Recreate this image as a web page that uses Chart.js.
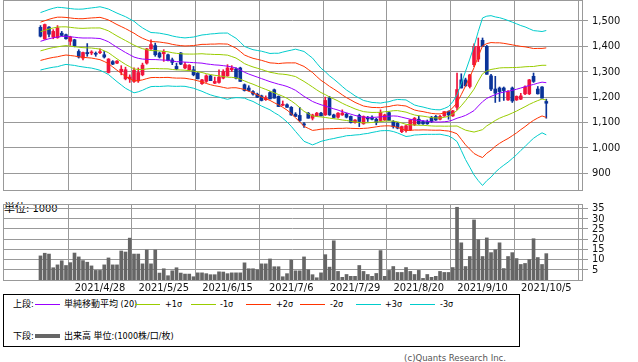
<!DOCTYPE html>
<html>
<head>
<meta charset="utf-8">
<script src="https://cdn.jsdelivr.net/npm/chart.js@4.4.0/dist/chart.umd.min.js"></script>
<style>
  body { margin: 0; background: #fff; width: 638px; height: 362px; position: relative; overflow: hidden;
         font-family: "DejaVu Sans Condensed", "Liberation Sans", "Noto Sans CJK JP", sans-serif; }
  canvas { position: absolute; left: 0; }
  #price { top: 0; }
  #vol { top: 195px; z-index: 2; }
  #unit { position: absolute; left: 4px; top: 202px; font-size: 11px; line-height: 13px; color: #000; z-index: 1; }
  #legend { position: absolute; left: 3px; top: 294px; width: 517px; height: 53px; box-sizing: border-box;
            border: 1px solid #000; font-size: 9px; color: #000; }
  #legend span { position: absolute; line-height: 11px; white-space: nowrap; }
  #legend i { position: absolute; width: 25px; height: 1px; }
  #copy { position: absolute; right: 132px; top: 352px; font-size: 9.5px; line-height: 12px; color: #555; }
</style>
</head>
<body>
<div id="unit">単位: 1000</div>
<canvas id="price" width="638" height="192"></canvas>
<canvas id="vol" width="638" height="105"></canvas>
<div id="legend">
  <span style="left:9px;top:4px">上段:</span>
  <i style="left:31px;top:9px;background:#9900ff"></i>
  <span style="left:60px;top:4px">単純移動平均 (20)</span>
  <i style="left:131px;top:9px;background:#99cc00"></i>
  <span style="left:161px;top:4px">+1σ</span>
  <i style="left:187px;top:9px;background:#99cc00"></i>
  <span style="left:216px;top:4px">-1σ</span>
  <i style="left:242px;top:9px;background:#ff3300"></i>
  <span style="left:272px;top:4px">+2σ</span>
  <i style="left:296px;top:9px;background:#ff3300"></i>
  <span style="left:326px;top:4px">-2σ</span>
  <i style="left:352px;top:9px;background:#00cccc"></i>
  <span style="left:381px;top:4px">+3σ</span>
  <i style="left:406px;top:9px;background:#00cccc"></i>
  <span style="left:436px;top:4px">-3σ</span>
  <span style="left:9px;top:36px">下段:</span>
  <i style="left:31px;top:39px;height:4px;background:#666"></i>
  <span style="left:60px;top:36px">出来高 単位:(1000株/口/枚)</span>
</div>
<div id="copy">(c)Quants Research Inc.</div>
<script>
// trading days shown on the chart
const dates = [
  "2021/4/8","2021/4/9","2021/4/12","2021/4/13","2021/4/14","2021/4/15","2021/4/16","2021/4/19","2021/4/20","2021/4/21",
  "2021/4/22","2021/4/23","2021/4/26","2021/4/27","2021/4/28","2021/4/30","2021/5/6","2021/5/7","2021/5/10","2021/5/11",
  "2021/5/12","2021/5/13","2021/5/14","2021/5/17","2021/5/18","2021/5/19","2021/5/20","2021/5/21","2021/5/24","2021/5/25",
  "2021/5/26","2021/5/27","2021/5/28","2021/5/31","2021/6/1","2021/6/2","2021/6/3","2021/6/4","2021/6/7","2021/6/8",
  "2021/6/9","2021/6/10","2021/6/11","2021/6/14","2021/6/15","2021/6/16","2021/6/17","2021/6/18","2021/6/21","2021/6/22",
  "2021/6/23","2021/6/24","2021/6/25","2021/6/28","2021/6/29","2021/6/30","2021/7/1","2021/7/2","2021/7/5","2021/7/6",
  "2021/7/7","2021/7/8","2021/7/9","2021/7/12","2021/7/13","2021/7/14","2021/7/15","2021/7/16","2021/7/19","2021/7/20",
  "2021/7/21","2021/7/26","2021/7/27","2021/7/28","2021/7/29","2021/7/30","2021/8/2","2021/8/3","2021/8/4","2021/8/5",
  "2021/8/6","2021/8/10","2021/8/11","2021/8/12","2021/8/13","2021/8/16","2021/8/17","2021/8/18","2021/8/19","2021/8/20",
  "2021/8/23","2021/8/24","2021/8/25","2021/8/26","2021/8/27","2021/8/30","2021/8/31","2021/9/1","2021/9/2","2021/9/3",
  "2021/9/6","2021/9/7","2021/9/8","2021/9/9","2021/9/10","2021/9/13","2021/9/14","2021/9/15","2021/9/16","2021/9/17",
  "2021/9/21","2021/9/22","2021/9/24","2021/9/27","2021/9/28","2021/9/29","2021/9/30","2021/10/1","2021/10/4","2021/10/5"
];

const open = [
  1475,1429,1476,1437,1434,1452,1446,1420,1426,1380, 1354,1376,1374,1373,1375,1367,1297,1340,1334,1300,
  1272,1272,1262,1264,1288,1334,1390,1403,1374,1371, 1367,1347,1321,1374,1315,1308,1308,1295,1253,1262,
  1284,1255,1258,1275,1284,1308,1311,1315,1249,1236, 1222,1212,1205,1190,1218,1229,1203,1168,1170,1160,
  1133,1128,1095,1137,1117,1126,1137,1130,1196,1130, 1121,1130,1133,1124,1100,1128,1095,1121,1121,1113,
  1108,1110,1139,1104,1097,1064,1068,1071,1091,1113, 1104,1104,1121,1124,1113,1126,1143,1126,1160,1268,
  1268,1242,1328,1350,1424,1400,1284,1232,1236,1236, 1189,1236,1189,1192,1213,1213,1282,1232,1240,1183
];
const high = [
  1482,1488,1478,1466,1482,1459,1448,1440,1428,1387, 1378,1411,1383,1378,1390,1380,1352,1344,1344,1324,
  1318,1288,1315,1315,1334,1392,1426,1413,1378,1387, 1370,1354,1334,1376,1337,1328,1321,1297,1270,1288,
  1286,1279,1308,1308,1328,1324,1315,1318,1252,1245, 1226,1216,1208,1205,1222,1232,1205,1185,1174,1163,
  1139,1160,1100,1140,1133,1140,1140,1200,1203,1133, 1139,1150,1137,1126,1112,1133,1126,1124,1126,1117,
  1150,1133,1142,1108,1100,1086,1090,1112,1120,1126, 1108,1110,1124,1128,1128,1143,1146,1148,1295,1292,
  1275,1290,1410,1433,1433,1404,1290,1282,1240,1240, 1226,1240,1205,1215,1245,1270,1295,1242,1242,1192
];
const low = [
  1437,1428,1437,1430,1432,1442,1428,1404,1398,1354, 1347,1361,1367,1361,1371,1354,1295,1328,1332,1288,
  1268,1258,1258,1258,1284,1330,1388,1361,1354,1341, 1343,1328,1308,1328,1312,1305,1284,1272,1250,1258,
  1265,1253,1255,1272,1282,1301,1272,1262,1224,1224, 1208,1198,1185,1187,1193,1196,1163,1166,1160,1128,
  1124,1104,1081,1117,1110,1124,1126,1128,1128,1118, 1117,1128,1118,1098,1097,1084,1093,1104,1110,1091,
  1104,1108,1108,1078,1075,1060,1062,1068,1088,1093, 1093,1093,1100,1108,1110,1124,1113,1124,1150,1236,
  1242,1236,1320,1340,1400,1290,1226,1179,1183,1187, 1187,1179,1187,1190,1210,1210,1258,1212,1196,1117
];
const close = [
  1440,1486,1448,1459,1473,1443,1430,1437,1400,1358, 1376,1371,1378,1369,1379,1358,1350,1330,1342,1310,
  1308,1279,1306,1297,1326,1390,1407,1367,1358,1380, 1344,1337,1311,1330,1328,1326,1288,1272,1268,1284,
  1265,1262,1279,1301,1315,1314,1275,1262,1226,1226, 1212,1200,1187,1197,1193,1196,1163,1172,1160,1130,
  1124,1108,1090,1117,1130,1137,1126,1187,1130,1120, 1137,1137,1121,1100,1110,1104,1124,1114,1113,1100,
  1140,1130,1108,1084,1078,1084,1087,1110,1117,1095, 1095,1095,1104,1110,1124,1143,1130,1146,1230,1236,
  1245,1288,1400,1400,1400,1290,1232,1216,1222,1226, 1222,1185,1203,1205,1240,1268,1262,1213,1196,1176
];

// 出来高 (1000株)
const volume = [
  11.8,13.1,12.7,6.0,7.4,9.4,7.1,8.5,13.2,11.3, 9.5,8.7,6.9,4.7,4.7,7.4,10.8,7.4,7.4,14.2,
  13.7,20.5,12.7,12.7,7.9,14.7,7.9,14.7,3.4,5.5, 2.1,4.5,6.0,3.4,2.9,2.9,1.6,3.5,3.5,3.1,
  2.6,2.6,4.0,3.9,3.1,3.5,3.5,3.5,8.4,5.5, 5.5,5.0,7.9,7.9,10.3,6.5,6.5,1.6,3.1,9.8,
  4.5,4.5,11.3,5.0,2.6,1.1,3.5,12.4,6.3,19.2, 4.2,1.3,2.7,1.8,1.8,7.1,4.2,2.7,1.8,3.2,
  14.4,1.8,4.7,6.6,3.7,3.7,6.1,4.2,2.7,4.7, 0.8,2.7,1.3,1.8,4.2,3.7,3.7,6.1,35.6,18.2,
  6.6,11.5,29.4,19.7,11.5,20.6,13.4,14.8,18.2,5.6, 11.5,13.4,10.5,7.6,8.1,10.0,20.2,11.0,7.6,12.9
];

// 単純移動平均(20) and its standard deviation
const sma20 = [
  1420,1425,1430,1434,1437,1439,1440,1438,1436,1434, 1433,1433,1433,1432,1431,1425,1418,1407,1396,1386,
  1376,1367,1358,1353,1350,1349,1348,1348,1347,1346, 1345,1342,1340,1339,1338,1337,1336,1335,1334,1331,
  1329,1327,1326,1324,1322,1319,1315,1307,1298,1291, 1285,1279,1273,1267,1261,1256,1251,1247,1242,1235,
  1227,1215,1203,1193,1183,1176,1170,1165,1159,1154, 1149,1143,1138,1133,1128,1124,1121,1120,1120,1121,
  1122,1124,1125,1126,1125,1121,1117,1113,1110,1108, 1107,1105,1103,1102,1102,1103,1105,1110,1117,1122,
  1128,1137,1147,1165,1182,1195,1203,1210,1216,1220, 1223,1227,1231,1236,1241,1246,1250,1255,1259,1257
];
const sigma = [
  37.7,38,38.4,38.7,39,38,37,37,37,37.5, 38,38.8,39.5,40.5,41.7,42.3,43,44,45,46,
  47,47,47,44,41,38,35.5,35.2,35,34.3, 33.6,33,32.5,32,31.8,32.7,33.6,35.3,37,38.5,
  40,41,42,42.8,43.5,41,39,36.5,34,34, 34,35,36,36.5,37,39,40.6,43.5,46.5,50,
  54,56.5,59,58,57,52.5,48,45,41.7,39, 36,33,30,28,25.7,24,22,21,19.7,19,
  18.2,18.6,19,20.5,22,23,24,22,19.7,18.8, 18,17.2,16.5,16.2,16,17.5,19.3,24,30.7,44,
  58,71,84.5,98,110,108,106,102,99,96, 93,89.5,86,82,78.6,74.5,70.7,68.5,66.5,68.5
];

const tickDates = ["2021/4/28","2021/5/25","2021/6/15","2021/7/6","2021/7/29","2021/8/20","2021/9/10","2021/10/5"];
const priceTicks = [900, 1000, 1100, 1200, 1300, 1400, 1500];
const volumeTicks = [5, 10, 15, 20, 25, 30, 35];

const UP = "#f0143c", DOWN = "#0a3399", GRID = "#999999";
const FONT = '"DejaVu Sans Condensed", "Liberation Sans", sans-serif';
const X_MIN = -8.82, X_MAX = 127.4;

const idx = dates.map((d, i) => i);
const tickIdx = tickDates.map(d => dates.indexOf(d));
const candleColor = idx.map(i => (close[i] >= open[i] ? UP : DOWN));

const bands = [
  { k: 0, color: "#9900ff" },
  { k: 1, color: "#99cc00" }, { k: -1, color: "#99cc00" },
  { k: 2, color: "#ff3300" }, { k: -2, color: "#ff3300" },
  { k: 3, color: "#00cccc" }, { k: -3, color: "#00cccc" },
];

// box round the plot area
const frame = {
  id: "frame",
  afterDraw(chart) {
    const { ctx, chartArea: a } = chart;
    ctx.save();
    ctx.strokeStyle = GRID;
    ctx.lineWidth = 1;
    ctx.strokeRect(Math.round(a.left) + 0.5, Math.round(a.top) + 0.5,
      Math.round(a.right - a.left), Math.round(a.bottom - a.top));
    ctx.restore();
  },
};

const setTicks = list => scale => { scale.ticks = list.map(v => ({ value: v })); };

function xScale(showLabels) {
  return {
    type: "linear", min: X_MIN, max: X_MAX, offset: false,
    afterBuildTicks: setTicks(tickIdx),
    afterFit: s => { s.height = showLabels ? 20 : 0; s.paddingLeft = 0; s.paddingRight = 0; },
    ticks: {
      display: showLabels, autoSkip: false, maxRotation: 0, padding: 2, color: "#111",
      font: { family: FONT, size: 11 },
      callback: v => dates[v],
    },
    grid: { color: GRID, drawTicks: false },
    border: { display: false },
  };
}

function yScale(min, max, ticks) {
  return {
    position: "right", min: min, max: max,
    afterBuildTicks: setTicks(ticks),
    afterFit: s => { s.width = 56; s.paddingTop = 0; s.paddingBottom = 0; },
    ticks: { color: "#111", padding: 4, autoSkip: false, font: { family: FONT, size: 11 } },
    grid: { color: GRID, tickLength: 6 },
    border: { display: false },
  };
}

const common = {
  responsive: false,
  animation: false,
  events: [],
  devicePixelRatio: 1,
  plugins: { legend: { display: false }, tooltip: { enabled: false } },
};

new Chart(document.getElementById("price"), {
  type: "bar",
  data: {
    datasets: [
      {
        // wicks
        data: idx.map(i => ({ x: i, y: [low[i], high[i]] })),
        backgroundColor: candleColor,
        barThickness: 1, grouped: false, order: 3,
      },
      {
        // bodies
        data: idx.map(i => ({ x: i, y: [open[i], close[i]] })),
        backgroundColor: candleColor,
        barThickness: 3, grouped: false, minBarLength: 1, order: 2,
      },
      ...bands.map(b => ({
        type: "line",
        data: idx.map(i => ({ x: i, y: sma20[i] + b.k * sigma[i] })),
        borderColor: b.color, borderWidth: 1, pointRadius: 0, tension: 0, order: 1,
      })),
    ],
  },
  options: {
    ...common,
    layout: { padding: { left: 3, top: 0, right: 0, bottom: 2 } },
    scales: { x: xScale(false), y: yScale(834.2, 1582.7, priceTicks) },
  },
  plugins: [frame],
});

new Chart(document.getElementById("vol"), {
  type: "bar",
  data: {
    datasets: [{
      data: idx.map(i => ({ x: i, y: volume[i] })),
      backgroundColor: "#666666",
      barThickness: 3, grouped: false,
    }],
  },
  options: {
    ...common,
    layout: { padding: { left: 3, top: 9, right: 0, bottom: 0 } },
    scales: { x: xScale(true), y: yScale(0, 37.2, volumeTicks) },
  },
  plugins: [frame],
});
</script>
</body>
</html>
